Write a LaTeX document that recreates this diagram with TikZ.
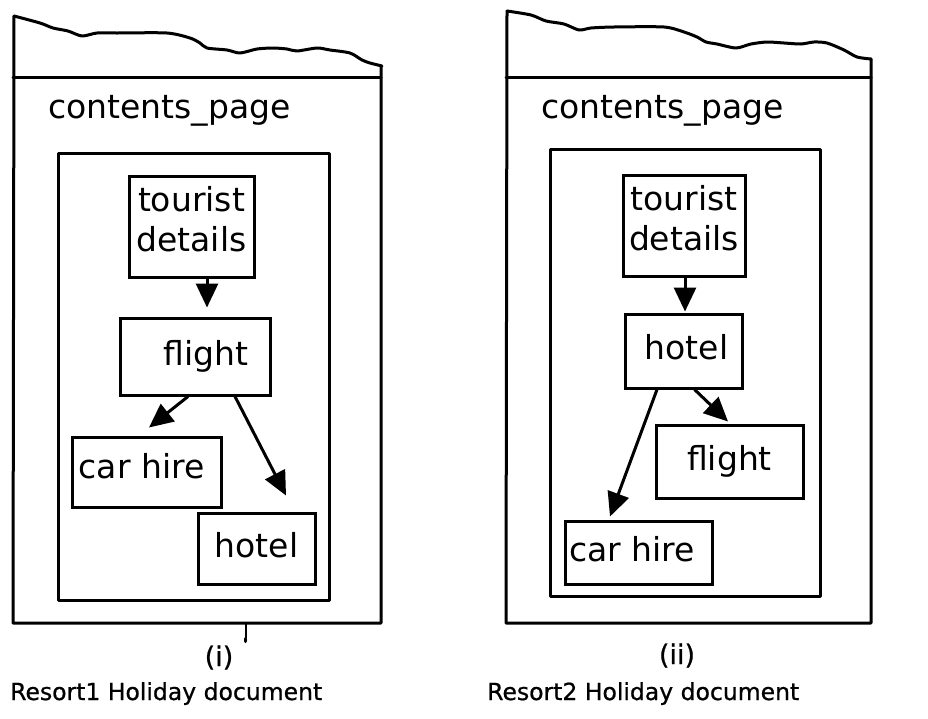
\documentclass[tikz,border=0pt]{standalone}
\usepackage{fontspec}
\setmainfont{DejaVu Sans}
\newfontfamily\capfont{DejaVu Sans}[FakeBold=0.8]
\usetikzlibrary{arrows.meta}
\begin{document}
\begin{tikzpicture}[x=1pt,y=-1pt,
  frameline/.style={line width=3pt, line join=round, line cap=round},
  box/.style={draw, line width=3pt, inner sep=0pt, font=\fontsize{33}{40}\selectfont},
  oneline/.style={box, text height=25pt, text depth=8pt},
  flow/.style={line width=3pt, -{Triangle[length=24pt,width=22pt]}},
  heading/.style={anchor=base west, inner sep=0pt, font=\fontsize{33}{40}\selectfont},
  caption/.style={anchor=base west, inner sep=0pt, font=\capfont\fontsize{23.5}{28}\selectfont},
  numeral/.style={anchor=base, inner sep=0pt, font=\capfont\fontsize{27}{30}\selectfont}]
\useasboundingbox (0,0) rectangle (928,718);

% ---------- document (i): torn page outline ----------
\draw[frameline] plot[smooth, tension=0.45] coordinates {
  (14,16) (40,23) (53,28) (68,31) (82,36) (97,33) (117,33) (167,33)
  (190,38) (200,43) (207,48) (227,50) (240,53) (257,49) (273,48)
  (287,49) (297,51) (317,48) (330,50) (350,53) (362,60) (370,63) (382,66)};
\draw[frameline] (14,16) -- (13,623) -- (381,623) -- (381,66);
\draw[frameline] (13,77) -- (381,77);
\node[heading] (cp1) at (48,118) {contents\_page};
\draw[frameline] (58,153) rectangle (329,600);

\node[box, minimum width=125pt, minimum height=101pt, align=center] (tour1)
  at (191.5,226.5) {tourist\\details\rule[-16pt]{0pt}{16pt}};
\node[oneline, minimum width=150pt, minimum height=77pt] (flt1)
  at (195,356.5) {\hspace*{22pt}flight};
\node[oneline, minimum width=149pt, minimum height=70pt, text depth=13pt] (car1)
  at (146.5,472) {car hire\hspace*{10pt}};
\node[oneline, minimum width=117pt, minimum height=71pt] (hot1)
  at (256.5,548.5) {hotel};

\draw[flow] ([xshift=15.5pt]tour1.south) -- ([xshift=12pt,yshift=9pt]flt1.north);
\draw[flow] ([xshift=-7pt]flt1.south) -- ([xshift=2.5pt,yshift=8pt]car1.north);
\draw[flow] ([xshift=40pt]flt1.south) -- ([xshift=29.5pt,yshift=16pt]hot1.north);

% small stray pen mark under the first page
\draw[line width=1.3pt] (246,624) -- (246,638);
\fill (245.5,640) ellipse (1.6pt and 3pt);

\node[numeral] (n1) at (219,666) {(i)};
\node[caption] (cap1) at (10,700) {Resort1 Holiday document};

% ---------- document (ii): torn page outline ----------
\draw[frameline] plot[smooth, tension=0.45] coordinates {
  (507,11) (531,15) (546,21) (564,24) (579,30) (591,28) (614,27) (664,27)
  (684,32) (697,37) (706,42) (717,44) (736,48) (751,44) (767,42)
  (784,43) (801,44) (814,42) (827,43) (844,50) (857,57) (871,59)};
\draw[frameline] (507,11) -- (506,623) -- (871,623) -- (871,59);
\draw[frameline] (506,77) -- (871,77);
\node[heading] (cp2) at (541,118) {contents\_page};
\draw[frameline] (550,149) rectangle (820,596);

\node[box, minimum width=122pt, minimum height=101pt, align=center] (tour2)
  at (684,225.5) {tourist\\details\rule[-16pt]{0pt}{16pt}};
\node[oneline, minimum width=117pt, minimum height=74pt] (hot2)
  at (683.5,351) {\hspace*{6pt}hotel};
\node[oneline, minimum width=147pt, minimum height=73pt] (flt2)
  at (729.5,461.5) {flight};
\node[oneline, minimum width=147pt, minimum height=63pt] (car2)
  at (638.5,552.5) {car hire\hspace*{13pt}};

\draw[flow] ([xshift=1pt]tour2.south) -- ([xshift=1.5pt,yshift=1pt]hot2.north);
\draw[flow] ([xshift=11pt]hot2.south) -- ([xshift=-1.5pt,yshift=2pt]flt2.north);
\draw[flow] ([xshift=-26.5pt]hot2.south) -- ([xshift=-28.5pt,yshift=3pt]car2.north);

\node[numeral] (n2) at (677,664) {(ii)};
\node[caption] (cap2) at (487,700) {Resort2 Holiday document};
\end{tikzpicture}
\end{document}
